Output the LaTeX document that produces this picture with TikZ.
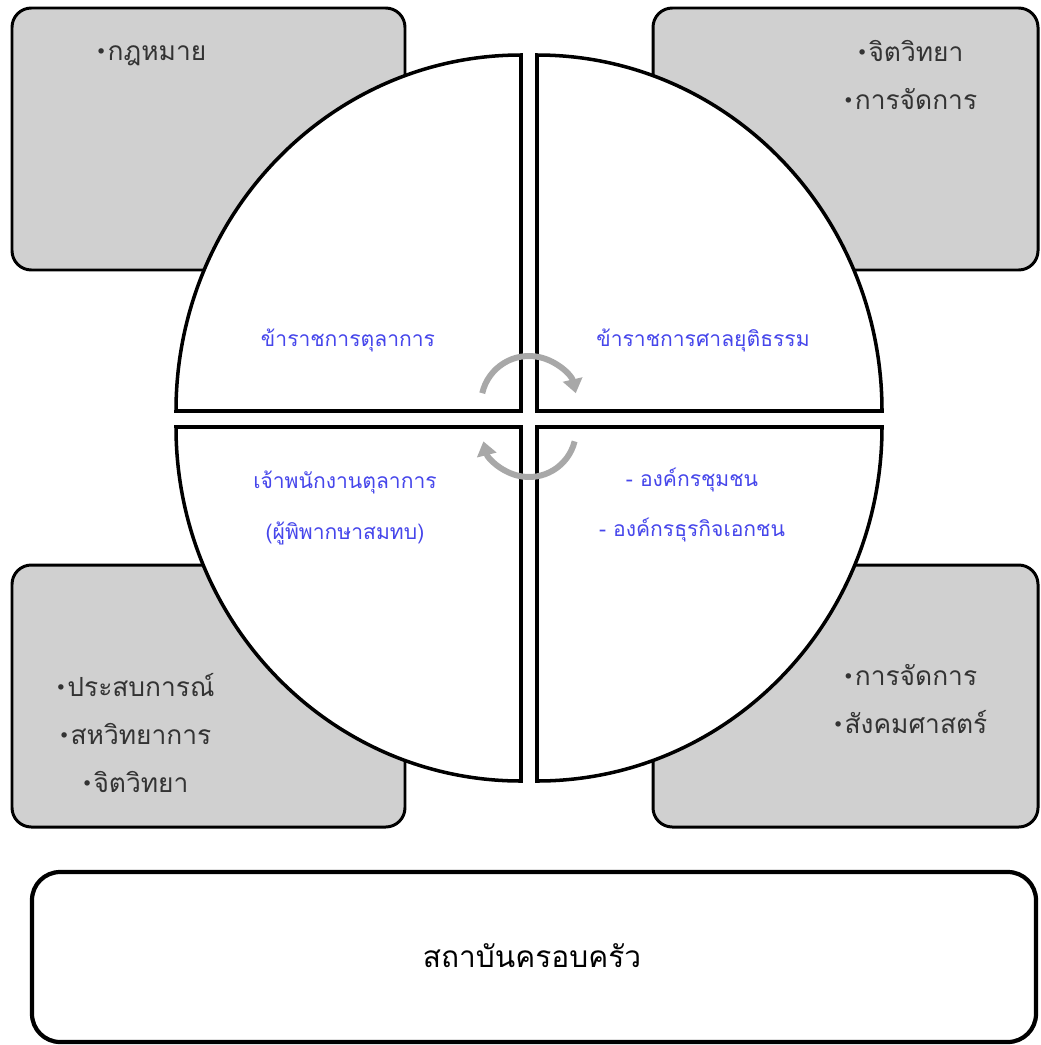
\documentclass[tikz,border=0pt]{standalone}
\usepackage{fontspec}
\newfontfamily\thaifont[Script=Thai]{Loma}
\usetikzlibrary{arrows.meta,positioning}
\definecolor{fieldgray}{RGB}{208,208,208}
\definecolor{roleblue}{RGB}{70,70,235}
\definecolor{turngray}{RGB}{168,168,168}
\newcommand{\dotmark}{\raisebox{2.2pt}{\fontsize{9}{9}\selectfont •}\kern1.5pt}
\tikzset{
  field/.style={draw=black, line width=1.7pt, fill=fieldgray, rounded corners=11pt},
  quarter/.style={draw=black, line width=2pt, fill=white},
  subject/.style={font=\thaifont\fontsize{15}{27.5}\selectfont, text=black!80, align=center},
  role/.style={font=\thaifont\fontsize{12}{29}\selectfont, text=roleblue, align=center},
  turn/.style={draw=turngray, line width=3.4pt, -{Triangle[length=8pt,width=11pt]}},
  home/.style={draw=black, line width=2.4pt, fill=white, rounded corners=16pt}
}
\begin{document}
\begin{tikzpicture}[x=0.02cm,y=-0.02cm]
\useasboundingbox (0,0) rectangle (1041,1045);

% the four fields behind the circle
\draw[field] (12,8) rectangle (405,270);
\draw[field] (653,8) rectangle (1038,270);
\draw[field] (12,565) rectangle (405,827);
\draw[field] (653,565) rectangle (1038,827);

% the four quarters
\draw[quarter] (521,411) -- (176,411) arc[start angle=180, end angle=270, x radius=345, y radius=356] -- cycle;
\draw[quarter] (537,411) -- (882,411) arc[start angle=0, end angle=-90, x radius=345, y radius=356] -- cycle;
\draw[quarter] (521,427) -- (176,427) arc[start angle=180, end angle=90, x radius=345, y radius=354] -- cycle;
\draw[quarter] (537,427) -- (882,427) arc[start angle=0, end angle=90, x radius=345, y radius=354] -- cycle;

% turning arrows in the middle
\coordinate (hub_top) at (529,404);
\coordinate (hub_bot) at (529,430);
\draw[turn] (hub_top) ++(193:48) arc[start angle=193, end angle=347, radius=48];
\draw[turn] (hub_bot) ++(14:47) arc[start angle=14, end angle=166, radius=47];

% subjects
\node[subject] (law) at (152,56) {\dotmark กฎหมาย};
\node[subject] (psy_mgmt) at (911,75) {\dotmark จิตวิทยา\\\dotmark การจัดการ};
\node[subject] (exp) at (136,733) {\dotmark ประสบการณ์\\\dotmark สหวิทยาการ\\\dotmark จิตวิทยา};
\node[subject] (mgmt_soc) at (911,699) {\dotmark การจัดการ\\\dotmark สังคมศาสตร์};

% roles
\node[role] (court_staff) at (348,340) {ข้าราชการตุลาการ};
\node[role] (justice_staff) at (703,340) {ข้าราชการศาลยุติธรรม};
\node[role] (court_officer) at (345,508) {เจ้าพนักงานตุลาการ\\(ผู้พิพากษาสมทบ)};
\node[role] (orgs) at (692,505) {- องค์กรชุมชน\\- องค์กรธุรกิจเอกชน};

% family
\draw[home] (32,872) rectangle (1036,1042);
\node[font=\thaifont\fontsize{17}{20}\selectfont] (family) at (532,956) {สถาบันครอบครัว};
\end{tikzpicture}
\end{document}
